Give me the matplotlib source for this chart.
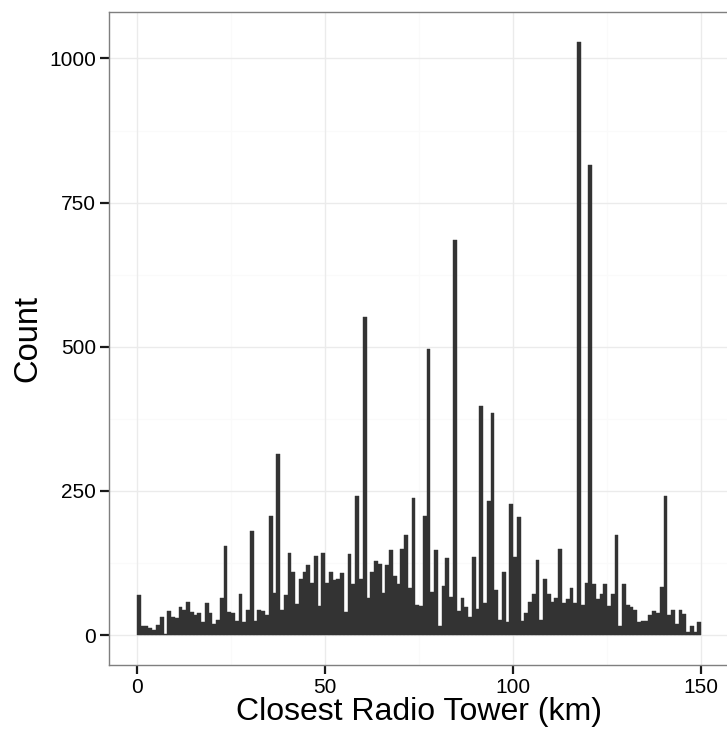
import numpy as np
import matplotlib
matplotlib.use("Agg")
import matplotlib.pyplot as plt

bin_starts = list(range(150))
counts = [
    69, 16, 15, 12, 8, 17, 31, 2, 41, 32,
    29, 48, 43, 58, 40, 35, 38, 23, 55, 38,
    19, 27, 64, 154, 40, 38, 24, 71, 23, 43,
    180, 25, 43, 41, 35, 207, 73, 314, 43, 69,
    142, 110, 54, 98, 109, 121, 90, 137, 50, 142,
    90, 110, 95, 98, 107, 40, 140, 88, 242, 98,
    551, 64, 109, 128, 124, 73, 121, 147, 102, 88,
    150, 173, 81, 237, 52, 50, 207, 496, 74, 147,
    16, 85, 133, 66, 685, 41, 64, 48, 31, 136,
    45, 397, 55, 233, 386, 79, 26, 109, 23, 228,
    135, 204, 25, 38, 57, 71, 131, 27, 98, 72,
    58, 64, 149, 55, 62, 81, 55, 1028, 52, 91,
    815, 88, 62, 72, 88, 50, 72, 173, 15, 88,
    53, 48, 43, 23, 24, 25, 34, 41, 38, 84,
    242, 34, 43, 19, 43, 36, 5, 15, 6, 22,
]
x_ticks = [0, 50, 100, 150]
y_ticks = [0, 250, 500, 750, 1000]

plt.rcParams['font.family'] = ['Liberation Sans', 'DejaVu Sans']

fig = plt.figure(figsize=(7.27, 7.38), dpi=100)
ax = fig.add_axes([109/727, (738-664.5)/738, (729.3-109)/727, (664.5-12.3)/738])

ax.set_xlim(-7.5, 157.5)
ax.set_ylim(-51, 1080)

# grid
for v in [25, 75, 125]:
    ax.axvline(v, color='#fafafa', lw=1.0, zorder=0)
for v in [125, 375, 625, 875]:
    ax.axhline(v, color='#fafafa', lw=1.0, zorder=0)
for v in x_ticks:
    ax.axvline(v, color='#ebebeb', lw=1.0, zorder=0)
for v in y_ticks:
    ax.axhline(v, color='#ebebeb', lw=1.0, zorder=0)

ax.bar(bin_starts, counts, width=1.0, align='edge', color='#333333',
       edgecolor='#333333', linewidth=0.3, zorder=2)

ax.set_xticks(x_ticks)
ax.set_yticks(y_ticks)
ax.set_xticklabels([str(v) for v in x_ticks])
ax.set_yticklabels([str(v) for v in y_ticks])
ax.tick_params(axis='both', length=6.5, width=1.6, color='#1a1a1a',
               labelsize=15, labelcolor='black', pad=3)

for s in ax.spines.values():
    s.set_color('#7f7f7f')
    s.set_linewidth(1.0)
ax.spines['right'].set_visible(False)

ax.set_xlabel('Closest Radio Tower (km)', fontsize=23, labelpad=0)
ax.set_ylabel('Count', fontsize=23.5, labelpad=4)

fig.savefig('out.png', dpi=100)
